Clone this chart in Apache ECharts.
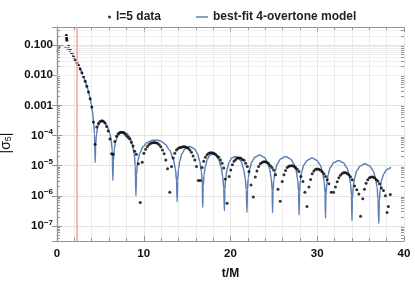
<!DOCTYPE html>
<html><head><meta charset="utf-8">
<script src="https://cdn.jsdelivr.net/npm/echarts@6/dist/echarts.min.js"></script>
<style>html,body{margin:0;padding:0;background:#fff}#c{width:415px;height:282px}</style>
</head><body><div id="c"></div>
<script>
// ---- data ----
const dataT = [1.08,1.1,1.12,1.14,1.34,1.53,1.73,1.92,2.11,2.3,2.49,2.68,2.87,3.06,3.25,3.44,3.63,3.82,4.01,4.2,4.39,
  4.58,4.77,4.96,5.15,5.34,5.53,5.72,5.91,6.1,6.29,6.48,
  6.67,6.86,7.05,7.24,7.43,7.62,7.81,8.0,8.19,8.38,8.57,8.76,8.95,9.14,9.38,9.6,9.82,
  10.02,10.22,10.42,10.62,10.82,11.01,11.2,11.39,11.58,11.78,11.97,12.16,12.35,12.54,12.74,13.0,
  13.2,13.39,13.58,13.77,13.96,14.15,14.35,14.54,14.73,14.92,15.12,15.31,15.5,15.69,15.89,16.08,16.3,16.53,
  16.72,16.91,17.11,17.3,17.49,17.68,17.88,18.07,18.26,18.45,18.64,18.84,19.03,19.22,19.41,19.61,
  19.84,20.03,20.22,20.41,20.6,20.79,20.98,21.17,21.36,21.56,21.75,21.94,22.13,22.36,22.63,
  22.86,23.05,23.24,23.44,23.63,23.82,24.01,24.2,24.4,24.59,24.78,24.97,25.2,25.47,25.73,
  25.96,26.16,26.35,26.54,26.73,26.92,27.12,27.31,27.5,27.69,27.88,28.11,28.35,28.58,28.81,
  29.04,29.23,29.42,29.61,29.81,30.0,30.19,30.38,30.57,30.77,30.96,31.15,31.34,31.61,31.88,
  32.1,32.3,32.49,32.68,32.87,33.07,33.26,33.45,33.64,33.83,34.03,34.3,34.56,34.8,34.99,
  35.25,35.44,35.63,35.82,36.02,36.21,36.4,36.59,36.78,36.98,37.17,37.4,37.63,37.86,38.05,38.2,38.42];
const dataV = [0.21,0.18,0.16,0.145,0.091,0.070,0.054,0.040,0.031,0.026,0.021,0.016,0.012,0.0089,0.0063,0.0043,0.0028,0.00166,8.9e-4,2.8e-4,5.1e-5,
  1.9e-4,2.5e-4,2.9e-4,3.1e-4,3.0e-4,2.6e-4,2.0e-4,1.4e-4,7.6e-5,2.5e-5,2.4e-5,
  6.3e-5,9.5e-5,1.15e-4,1.26e-4,1.29e-4,1.26e-4,1.15e-4,1.0e-4,8.7e-5,7.6e-5,6.0e-5,4.5e-5,3.0e-5,2.4e-5,1.15e-5,6.0e-7,1.3e-5,
  2.6e-5,3.5e-5,4.3e-5,5.0e-5,5.5e-5,5.8e-5,5.9e-5,5.8e-5,5.5e-5,4.9e-5,4.2e-5,3.3e-5,2.5e-5,1.55e-5,7.9e-6,1.3e-6,
  9.3e-6,1.8e-5,2.6e-5,3.3e-5,3.7e-5,4.0e-5,4.1e-5,4.2e-5,4.2e-5,4.1e-5,3.8e-5,3.3e-5,2.8e-5,2.1e-5,1.55e-5,9.3e-6,3.2e-6,3.2e-6,
  8.7e-6,1.4e-5,1.9e-5,2.3e-5,2.6e-5,2.7e-5,2.7e-5,2.6e-5,2.4e-5,2.1e-5,1.9e-5,1.55e-5,1.2e-5,8.3e-6,3.6e-6,5.7e-7,
  4.4e-6,7.2e-6,1.07e-5,1.4e-5,1.6e-5,1.8e-5,1.8e-5,1.8e-5,1.6e-5,1.5e-5,1.2e-5,9.3e-6,6.4e-6,2.3e-6,9.1e-7,
  4.2e-6,6.7e-6,9.3e-6,1.15e-5,1.26e-5,1.34e-5,1.34e-5,1.26e-5,1.15e-5,1.0e-5,8.7e-6,7.2e-6,5.0e-6,1.66e-6,6.6e-7,
  3.0e-6,5.0e-6,6.9e-6,8.7e-6,9.6e-6,1.0e-5,1.0e-5,9.6e-6,8.7e-6,7.6e-6,6.4e-6,4.4e-6,3.0e-6,1.3e-6,4.4e-7,
  1.95e-6,3.5e-6,5.4e-6,6.7e-6,7.6e-6,7.8e-6,7.6e-6,7.1e-6,6.3e-6,5.4e-6,4.4e-6,3.4e-6,2.5e-6,1.3e-6,1.3e-6,
  1.95e-6,2.9e-6,4.0e-6,4.8e-6,5.5e-6,5.9e-6,5.8e-6,5.5e-6,5.0e-6,4.3e-6,3.4e-6,2.1e-6,1.6e-6,1.15e-6,2.1e-7,
  7.9e-7,1.66e-6,2.6e-6,3.4e-6,4.0e-6,4.2e-6,4.2e-6,4.0e-6,3.5e-6,3.1e-6,2.5e-6,1.8e-6,1.5e-6,1.0e-6,2.8e-7,4.4e-7,1.1e-6];

const modelT = [0,0.25,0.5,0.75,1.0,1.25,1.5,1.75,2.0,2.25,2.5,2.75,3.0,3.25,3.5,3.75,3.95,4.1,4.22,4.32,4.4,
  4.45,4.55,4.7,4.9,5.2,5.5,5.8,6.05,6.25,6.37,6.44,
  6.5,6.6,6.75,7.0,7.3,7.67,8.05,8.4,8.7,8.9,9.02,9.1,
  9.16,9.3,9.55,9.9,10.4,11.0,11.5,12.0,12.5,13.0,13.4,13.65,13.78,13.85,
  13.9,14.0,14.15,14.4,14.75,15.3,15.85,16.2,16.45,16.65,16.75,16.8,
  16.85,16.95,17.1,17.35,17.6,17.95,18.35,18.65,18.9,19.1,19.22,19.3,
  19.35,19.45,19.6,19.85,20.15,20.55,20.95,21.25,21.5,21.7,21.82,21.9,
  21.95,22.05,22.2,22.45,22.8,23.35,23.9,24.25,24.5,24.7,24.8,24.85,
  24.9,25.0,25.15,25.4,25.8,26.35,26.9,27.3,27.55,27.75,27.85,27.9,
  27.95,28.05,28.2,28.45,28.85,29.4,29.95,30.35,30.6,30.8,30.9,30.95,
  31.0,31.1,31.25,31.5,31.9,32.45,33.0,33.4,33.65,33.85,33.95,34.0,
  34.05,34.15,34.3,34.55,34.95,35.5,36.05,36.45,36.7,36.9,37.0,37.1,
  37.15,37.25,37.4,37.65,38.0,38.5];
const modelV = [0.059,0.081,0.093,0.091,0.083,0.072,0.060,0.048,0.037,0.0275,0.020,0.0145,0.0098,0.0063,0.0038,0.0021,0.00112,6.0e-4,2.8e-4,1.1e-4,1.26e-5,
  5.0e-5,1.1e-4,1.9e-4,2.6e-4,3.0e-4,2.75e-4,2.0e-4,1.26e-4,7.1e-5,3.2e-5,3.2e-6,
  1.4e-5,3.5e-5,6.3e-5,9.8e-5,1.23e-4,1.32e-4,1.17e-4,8.7e-5,5.0e-5,2.5e-5,1.0e-5,1.0e-6,
  5.0e-6,1.4e-5,2.6e-5,4.2e-5,5.9e-5,6.9e-5,7.1e-5,6.5e-5,5.0e-5,3.2e-5,1.66e-5,7.9e-6,3.2e-6,6.3e-7,
  3.2e-6,7.6e-6,1.4e-5,2.5e-5,3.6e-5,4.3e-5,3.6e-5,2.5e-5,1.4e-5,6.3e-6,2.5e-6,4.1e-7,
  2.0e-6,5.0e-6,9.5e-6,1.66e-5,2.2e-5,2.45e-5,2.2e-5,1.58e-5,9.5e-6,4.5e-6,1.8e-6,3.2e-7,
  1.6e-6,4.0e-6,7.6e-6,1.32e-5,1.8e-5,2.0e-5,1.8e-5,1.32e-5,7.9e-6,3.8e-6,1.6e-6,2.8e-7,
  1.6e-6,4.0e-6,7.6e-6,1.32e-5,1.9e-5,2.24e-5,1.9e-5,1.32e-5,7.9e-6,3.8e-6,1.6e-6,2.75e-7,
  1.4e-6,3.5e-6,6.8e-6,1.17e-5,1.7e-5,2.0e-5,1.7e-5,1.17e-5,7.1e-6,3.4e-6,1.4e-6,2.3e-7,
  1.26e-6,3.2e-6,6.0e-6,1.05e-5,1.5e-5,1.78e-5,1.5e-5,1.05e-5,6.3e-6,3.0e-6,1.26e-6,1.8e-7,
  1.0e-6,2.5e-6,5.0e-6,8.7e-6,1.26e-5,1.48e-5,1.26e-5,8.7e-6,5.2e-6,2.5e-6,1.0e-6,1.5e-7,
  7.9e-7,2.0e-6,3.8e-6,6.8e-6,9.8e-6,1.15e-5,9.8e-6,6.8e-6,4.0e-6,1.9e-6,7.9e-7,1.2e-7,
  6.3e-7,1.6e-6,3.2e-6,5.2e-6,7.4e-6,8.7e-6];

const redLineT = 2.26;
const xTickLabels = ['0','10','20','30','40'];
const yTickExps = [-1,-2,-3,-4,-5,-6,-7];
const yTickLabels = ['0.100','0.010','0.001','{b|10}{s|−4}','{b|10}{s|−5}','{b|10}{s|−6}','{b|10}{s|−7}'];
const seriesNames = ['l=5 data','best-fit 4-overtone model'];
const xTitle = 't/M';
const yTitle = '|σ{sub|5}|';

// ---- chart ----
const FONT = 'Liberation Sans, Arial, sans-serif';
const yMin = Math.pow(10,-7.5), yMax = Math.pow(10,-0.4);
const frameColor = '#959595';

const minorGrid = [], minorTicks = [];
for (let e = -8; e <= -1; e++) {
  for (let m = 2; m <= 9; m++) {
    const v = m * Math.pow(10, e);
    if (v <= yMin || v >= yMax) continue;
    minorGrid.push({ yAxis: v });
    minorTicks.push([{ coord: [0, v] }, { coord: [0.35, v] }]);
    minorTicks.push([{ coord: [40, v] }, { coord: [39.65, v] }]);
  }
}

const chart = echarts.init(document.getElementById('c'), null, { renderer: 'canvas' });
chart.setOption({
  animation: false,
  backgroundColor: '#fff',
  grid: { left: 57, right: 11, top: 27, bottom: 41, outerBoundsMode: 'none' },
  legend: [
    { data: [{ name: seriesNames[0], icon: 'circle' }], left: 103, top: 6, itemWidth: 3, itemHeight: 3,
      textStyle: { fontFamily: FONT, fontSize: 12, fontWeight: 'bold', color: '#222' }, selectedMode: false },
    { data: [{ name: seriesNames[1], icon: 'rect' }], left: 191, top: 6, itemWidth: 12, itemHeight: 1.5,
      textStyle: { fontFamily: FONT, fontSize: 12, fontWeight: 'bold', color: '#222' }, selectedMode: false }
  ],
  xAxis: [{
    type: 'value', min: 0, max: 40, interval: 10,
    name: xTitle, nameLocation: 'middle', nameGap: 27,
    nameTextStyle: { fontFamily: FONT, fontSize: 12, fontWeight: 'bold', color: '#111' },
    axisLine: { show: true, lineStyle: { color: frameColor, width: 1.2 } },
    axisTick: { show: true, inside: true, length: 5, lineStyle: { color: frameColor } },
    minorTick: { show: true, splitNumber: 5, length: 3, lineStyle: { color: frameColor } },
    splitLine: { show: true, lineStyle: { color: '#e6e6e6', width: 1 } },
    minorSplitLine: { show: true, lineStyle: { color: '#ececec', width: 1 } },
    axisLabel: { margin: 7, fontFamily: FONT, fontSize: 11.5, fontWeight: 'bold', color: '#111',
      formatter: v => xTickLabels[Math.round(v / 10)] ?? '' }
  }, {
    type: 'value', min: 0, max: 40, interval: 10, position: 'top',
    axisLine: { show: true, lineStyle: { color: frameColor, width: 1.2 } },
    axisTick: { show: true, inside: true, length: 5, lineStyle: { color: frameColor } },
    minorTick: { show: true, splitNumber: 5, length: 3, lineStyle: { color: frameColor } },
    splitLine: { show: false }, axisLabel: { show: false }
  }],
  yAxis: [{
    type: 'log', logBase: 10, min: yMin, max: yMax, splitNumber: 7,
    name: yTitle, nameLocation: 'middle', nameGap: 38, nameRotate: 90,
    nameTextStyle: { fontFamily: FONT, fontSize: 14, color: '#111', padding: [0, 18, 0, 0],
      rich: { sub: { fontFamily: FONT, fontSize: 9, color: '#111', padding: [6, 0, 0, 0] } } },
    axisLine: { show: true, lineStyle: { color: frameColor, width: 1.2 } },
    axisTick: { show: true, inside: true, length: 5, lineStyle: { color: frameColor } },
    splitLine: { show: true, lineStyle: { color: '#e3e3e3', width: 1 } },
    axisLabel: { margin: 4, showMinLabel: false, showMaxLabel: false,
      fontFamily: FONT, fontSize: 11.5, fontWeight: 'bold', color: '#111',
      rich: {
        b: { fontFamily: FONT, fontSize: 11.5, fontWeight: 'bold', color: '#111' },
        s: { fontFamily: FONT, fontSize: 8, fontWeight: 'bold', color: '#111', padding: [0, 0, 7, 0] }
      },
      formatter: v => {
        const e = Math.log10(v);
        if (Math.abs(e - Math.round(e)) > 1e-6) return '';
        const i = yTickExps.indexOf(Math.round(e));
        return i >= 0 ? yTickLabels[i] : '';
      } }
  }, {
    type: 'log', logBase: 10, min: yMin, max: yMax, splitNumber: 7, position: 'right',
    axisLine: { show: true, lineStyle: { color: frameColor, width: 1.2 } },
    axisTick: { show: true, inside: true, length: 5, lineStyle: { color: frameColor } },
    splitLine: { show: false }, axisLabel: { show: false }
  }],
  series: [
    { type: 'line', name: 'grid', data: [], z: 0, silent: true,
      markLine: { silent: true, symbol: 'none', label: { show: false }, animation: false,
        lineStyle: { color: '#efefef', width: 1, type: 'solid' },
        data: minorGrid } },
    { type: 'line', name: 'ticks', data: [], z: 1, silent: true,
      markLine: { silent: true, symbol: 'none', label: { show: false }, animation: false,
        lineStyle: { color: frameColor, width: 1, type: 'solid' },
        data: minorTicks } },
    { type: 'line', name: 'peak', data: [], z: 1, silent: true,
      markLine: { silent: true, symbol: 'none', label: { show: false }, animation: false,
        lineStyle: { color: '#f5a0a0', width: 1.5, type: 'solid' },
        data: [{ xAxis: redLineT }] } },
    { type: 'line', name: seriesNames[1], z: 2,
      data: modelT.map((t, i) => [t, modelV[i]]),
      showSymbol: false, smooth: 0.3, smoothMonotone: 'x',
      lineStyle: { color: '#5E81B5', width: 1.5 }, itemStyle: { color: '#5E81B5' } },
    { type: 'scatter', name: seriesNames[0], z: 3,
      data: dataT.map((t, i) => [t, dataV[i]]),
      symbol: 'circle', symbolSize: 3, itemStyle: { color: '#000' } }
  ]
});
</script></body></html>
